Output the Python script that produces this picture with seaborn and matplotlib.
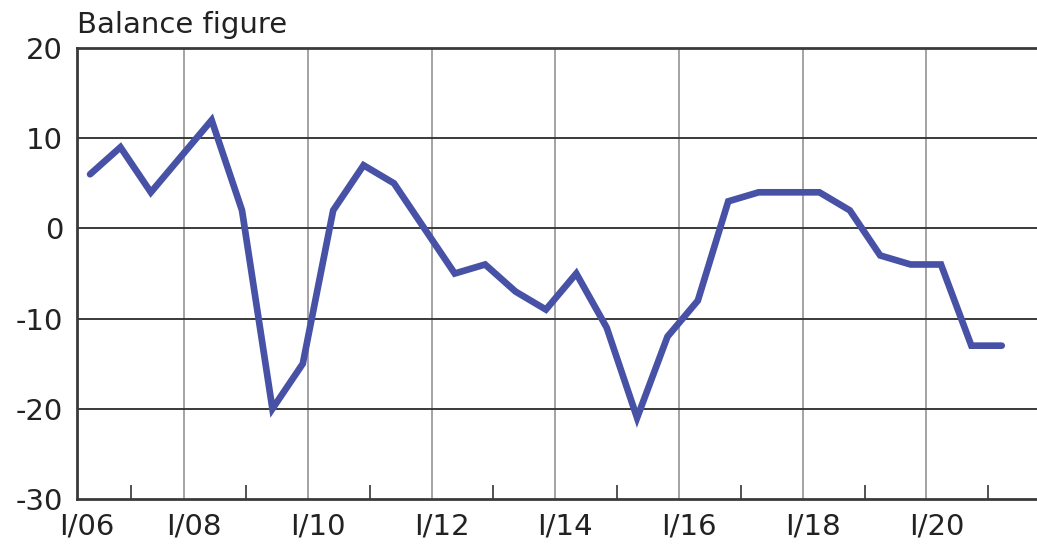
import matplotlib as mpl
mpl.use('Agg')
import matplotlib.pyplot as plt
import matplotlib.transforms as mtransforms
import numpy as np
import pandas as pd
import seaborn as sns

# Survey balance, half-yearly readings
balance = [6, 9, 4, 8, 12, 2, -20, -15, 2, 7, 5, 0, -5, -4, -7, -9, -5, -11,
           -21, -12, -8, 3, 4, 4, 4, 2, -3, -4, -4, -13, -13]
tick_labels = ['I/06', 'I/08', 'I/10', 'I/12', 'I/14', 'I/16', 'I/18', 'I/20']
y_ticks = [20, 10, 0, -10, -20, -30]

df = pd.DataFrame({'period': np.arange(len(balance)), 'balance': balance})

sns.set_style('white')
plt.rcParams['font.family'] = ['DejaVu Sans']
plt.rcParams['axes.unicode_minus'] = False

fig = plt.figure(figsize=(10.37, 5.47), dpi=100)
ax = fig.add_axes([77 / 1037, 48 / 547, 1 - 77 / 1037, 1 - 96 / 547])

# positions of the year gridlines on the period axis
grid_pos = [-0.43, 3.10, 7.17, 11.24, 15.31, 19.38, 23.45, 27.52]
minor_pos = [(a + b) / 2 for a, b in zip(grid_pos[:-1], grid_pos[1:])] + [29.55]

for gx in grid_pos[1:]:
    ax.axvline(gx, color='#8a8a8a', lw=1.1, zorder=1)
for gy in y_ticks[1:-1]:
    ax.axhline(gy, color='#3a3a3a', lw=1.4, zorder=1)

sns.lineplot(data=df, x='period', y='balance', ax=ax, color='#4751a6',
             lw=4.8, zorder=3, solid_joinstyle='miter')

ax.set_xlim(-0.43, 31.16)
ax.set_ylim(-30, 20)
ax.set_yticks(y_ticks)
ax.set_yticklabels([str(v) for v in y_ticks])
ax.set_xticks(grid_pos)
ax.set_xticklabels(tick_labels)
ax.set_xticks(minor_pos, minor=True)
ax.tick_params(axis='x', which='major', length=0, pad=10, labelsize=21, colors='#222222')
ax.tick_params(axis='x', which='minor', bottom=True, direction='in', length=10,
               width=1.3, color='#444444')
ax.tick_params(axis='y', length=0, pad=10, labelsize=21, colors='#222222')

offset = mtransforms.ScaledTranslation(0.10, 0, fig.dpi_scale_trans)
for lab in ax.get_xticklabels():
    lab.set_transform(lab.get_transform() + offset)

for side in ['left', 'bottom', 'top']:
    ax.spines[side].set_color('#3a3a3a')
    ax.spines[side].set_linewidth(2)
ax.spines['right'].set_visible(False)

ax.set_xlabel('')
ax.set_ylabel('')
ax.set_title('Balance figure', loc='left', fontsize=21, pad=11, color='#222222')

plt.savefig('out.png', dpi=100)
